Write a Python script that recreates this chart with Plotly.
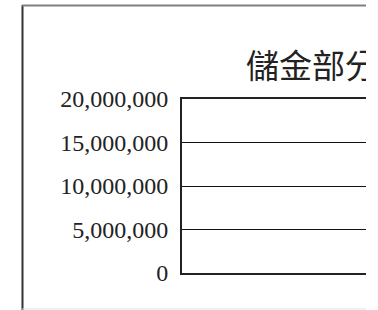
import plotly.graph_objects as go

# ---- data ----
title_text = "儲金部分"
y_tick_values = [0, 5000000, 10000000, 15000000, 20000000]
y_tick_labels = ["0", "5,000,000", "10,000,000", "15,000,000", "20,000,000"]
y_range = [0, 20000000]

W, H = 378, 310
R_CUT = 12  # right part of the page is cut off
PW = W - R_CUT  # paper width in px

fig = go.Figure()

# main (empty) plot area
fig.add_trace(go.Scatter(x=[], y=[], xaxis="x", yaxis="y", showlegend=False))

# title as clipped text on an overlay pixel axis
fig.add_trace(go.Scatter(
    x=[312], y=[70], mode="text", text=[title_text],
    textposition="middle center",
    textfont=dict(family="Noto Sans CJK TC", size=33, color="#222"),
    cliponaxis=True, hoverinfo="skip", showlegend=False,
    xaxis="x2", yaxis="y2",
))

fig.update_layout(
    width=W, height=H,
    margin=dict(l=0, r=R_CUT, t=0, b=0, pad=0),
    paper_bgcolor="white", plot_bgcolor="rgba(0,0,0,0)",
    showlegend=False,
    xaxis=dict(domain=[182 / PW, 1], range=[0, 1], showgrid=False, zeroline=False,
               showticklabels=False, ticks="", showline=True, mirror=True,
               linecolor="#222", linewidth=2, fixedrange=True),
    yaxis=dict(domain=[(H - 273) / H, (H - 99) / H], range=y_range,
               tickvals=y_tick_values, ticktext=y_tick_labels,
               showgrid=True, gridcolor="#111", gridwidth=1, zeroline=False,
               showline=True, mirror=False, linecolor="#222", linewidth=2,
               ticks="", ticklabelstandoff=7, automargin=False,
               tickfont=dict(family="Liberation Serif", size=24, color="#222"),
               fixedrange=True),
    xaxis2=dict(domain=[0, 1], range=[0, PW], visible=False, anchor="y2", fixedrange=True),
    yaxis2=dict(domain=[0, 1], range=[H, 0], visible=False, anchor="x2", fixedrange=True),
    shapes=[
        dict(type="line", xref="x2", yref="y2", x0=22.5, x1=22.5, y0=5, y1=H,
             line=dict(color="#333", width=2)),
        dict(type="line", xref="x2", yref="y2", x0=22, x1=PW, y0=5.5, y1=5.5,
             line=dict(color="#808080", width=2)),
        dict(type="line", xref="x2", yref="y2", x0=22, x1=PW, y0=309, y1=309,
             line=dict(color="#e0e0e0", width=1)),
    ],
)

fig.write_html("out.html", config={"displayModeBar": False},
               post_script="document.body.style.margin='0';")
